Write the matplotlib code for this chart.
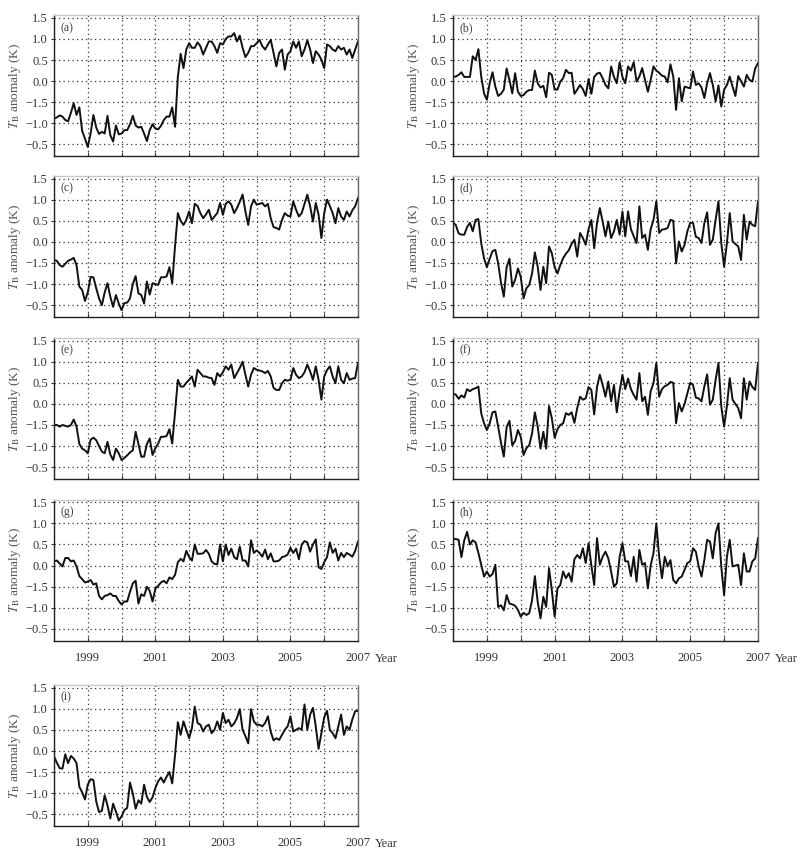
import numpy as np
import matplotlib
matplotlib.use("Agg")
import matplotlib.pyplot as plt

plt.rcParams['font.family'] = ['Liberation Serif', 'DejaVu Serif']
plt.rcParams['mathtext.fontset'] = 'stix'

# monthly anomalies, Jan 1998 .. Jan 2007 (109 values per panel)
months = 1998 + np.arange(109) / 12.0

ser_a = [-0.88, -0.86, -0.81, -0.84, -0.92, -0.95, -0.75, -0.52, -0.80, -0.62, -1.18, -1.36,
         -1.56, -1.24, -0.80, -1.10, -1.25, -1.20, -1.24, -0.82, -1.28, -1.43, -1.05, -1.26,
         -1.24, -1.16, -1.16, -1.02, -0.82, -1.05, -1.10, -1.08, -1.24, -1.42, -1.16, -1.02,
         -1.12, -1.14, -1.06, -0.92, -0.84, -0.84, -0.62, -1.08, 0.10, 0.65, 0.31, 0.75,
         0.90, 0.79, 0.79, 0.92, 0.83, 0.63, 0.79, 0.94, 0.94, 0.83, 0.67, 0.90,
         0.87, 1.00, 1.06, 1.06, 1.14, 0.94, 1.08, 0.79, 0.57, 0.67, 0.83, 0.83,
         0.90, 0.98, 0.83, 0.75, 0.87, 0.98, 0.67, 0.35, 0.67, 0.75, 0.27, 0.63,
         0.71, 0.94, 0.79, 0.94, 0.59, 0.75, 0.97, 0.75, 0.43, 0.71, 0.63, 0.51,
         0.31, 0.87, 0.83, 0.75, 0.71, 0.83, 0.75, 0.79, 0.63, 0.75, 0.55, 0.75,
         0.94]

ser_b = [0.10, 0.11, 0.15, 0.21, 0.10, 0.10, 0.10, 0.59, 0.50, 0.76, 0.11, -0.29,
         -0.44, -0.05, 0.21, -0.13, -0.35, -0.30, -0.20, 0.30, 0.03, -0.29, 0.19, -0.25,
         -0.35, -0.33, -0.25, -0.21, -0.21, 0.25, -0.05, -0.15, -0.11, -0.38, 0.20, 0.15,
         -0.20, -0.20, -0.01, 0.07, 0.27, 0.19, 0.20, -0.30, -0.20, -0.09, -0.19, -0.35,
         0.05, -0.30, 0.10, 0.18, 0.20, 0.07, -0.09, -0.17, 0.35, 0.10, -0.05, 0.45,
         0.10, -0.05, 0.35, 0.25, 0.45, -0.01, 0.11, 0.31, 0.03, -0.25, 0.03, 0.35,
         0.25, 0.20, 0.13, 0.11, -0.03, 0.40, 0.11, -0.68, 0.07, -0.48, -0.13, -0.15,
         -0.17, 0.23, -0.09, -0.05, -0.15, -0.40, -0.05, 0.19, -0.09, -0.48, -0.10, -0.60,
         -0.20, -0.09, 0.11, -0.13, -0.35, 0.12, 0.00, -0.13, 0.15, 0.03, -0.01, 0.30,
         0.43]

ser_c = [-0.43, -0.45, -0.55, -0.59, -0.52, -0.45, -0.42, -0.38, -0.55, -1.06, -1.14, -1.40,
         -1.20, -0.83, -0.84, -1.10, -1.34, -1.50, -1.20, -0.98, -1.30, -1.54, -1.26, -1.46,
         -1.62, -1.45, -1.44, -1.34, -1.00, -0.81, -1.22, -1.26, -1.46, -0.94, -1.25, -0.98,
         -1.00, -1.02, -0.84, -0.84, -0.82, -0.60, -0.98, -0.10, 0.68, 0.50, 0.40, 0.52,
         0.72, 0.44, 0.90, 0.85, 0.68, 0.56, 0.65, 0.76, 0.52, 0.60, 0.68, 0.92,
         0.64, 0.90, 0.96, 0.88, 0.68, 0.80, 0.95, 1.12, 0.72, 0.40, 0.84, 1.00,
         0.88, 0.90, 0.92, 0.84, 0.90, 0.56, 0.35, 0.33, 0.29, 0.52, 0.68, 0.62,
         0.60, 0.96, 0.76, 0.60, 0.68, 0.90, 1.12, 0.84, 0.48, 0.92, 0.64, 0.09,
         0.68, 1.00, 0.85, 0.68, 0.44, 0.80, 0.60, 0.52, 0.72, 0.60, 0.75, 0.84,
         1.04]

ser_d = [0.45, 0.40, 0.20, 0.17, 0.17, 0.35, 0.45, 0.25, 0.52, 0.54, -0.03, -0.39,
         -0.60, -0.40, -0.22, -0.19, -0.51, -0.96, -1.30, -0.60, -0.40, -1.06, -0.90, -0.63,
         -0.83, -1.34, -1.10, -1.02, -0.75, -0.25, -0.59, -1.14, -0.59, -0.98, -0.11, -0.27,
         -0.60, -0.75, -0.55, -0.39, -0.28, -0.20, -0.05, 0.05, -0.35, 0.21, 0.09, -0.07,
         0.30, 0.52, -0.15, 0.45, 0.80, 0.48, 0.13, 0.48, 0.09, 0.25, 0.52, 0.17,
         0.72, 0.13, 0.72, 0.30, 0.13, -0.03, 0.84, 0.09, 0.17, -0.19, 0.30, 0.52,
         0.96, 0.21, 0.29, 0.30, 0.33, 0.52, 0.50, -0.51, 0.01, -0.23, -0.07, 0.25,
         0.45, 0.45, 0.12, 0.09, -0.03, 0.44, 0.70, -0.07, 0.05, 0.52, 0.96, -0.03,
         -0.59, -0.03, 0.68, 0.01, -0.05, -0.11, -0.43, 0.64, 0.05, 0.48, 0.40, 0.37,
         0.96]

ser_e = [-0.50, -0.50, -0.54, -0.50, -0.52, -0.54, -0.50, -0.37, -0.54, -0.95, -1.06, -1.10,
         -1.17, -0.85, -0.80, -0.86, -1.00, -1.13, -1.17, -0.90, -1.20, -1.33, -1.06, -1.17,
         -1.33, -1.28, -1.22, -1.15, -1.10, -0.66, -0.95, -1.25, -1.25, -0.95, -0.82, -1.21,
         -1.05, -0.94, -0.78, -0.78, -0.76, -0.60, -0.94, -0.20, 0.57, 0.41, 0.41, 0.50,
         0.57, 0.65, 0.41, 0.81, 0.73, 0.65, 0.65, 0.62, 0.61, 0.45, 0.73, 0.65,
         0.75, 0.89, 0.81, 0.93, 0.61, 0.73, 0.85, 1.00, 0.69, 0.41, 0.69, 0.85,
         0.81, 0.79, 0.77, 0.73, 0.78, 0.65, 0.38, 0.33, 0.33, 0.49, 0.57, 0.55,
         0.57, 0.85, 0.69, 0.61, 0.65, 0.75, 0.93, 0.77, 0.57, 0.89, 0.57, 0.10,
         0.65, 0.80, 0.89, 0.65, 0.49, 0.89, 0.57, 0.49, 0.73, 0.57, 0.60, 0.61,
         0.97]

ser_f = [0.24, 0.22, 0.12, 0.20, 0.15, 0.35, 0.30, 0.35, 0.37, 0.41, -0.22, -0.46,
         -0.62, -0.46, -0.20, -0.18, -0.54, -0.92, -1.25, -0.55, -0.40, -0.98, -0.88, -0.62,
         -0.78, -1.21, -1.05, -0.98, -0.70, -0.20, -0.54, -1.06, -0.66, -1.06, -0.05, -0.34,
         -0.80, -0.60, -0.50, -0.46, -0.22, -0.26, -0.20, -0.45, -0.10, 0.17, 0.10, 0.13,
         0.40, 0.33, -0.25, 0.40, 0.69, 0.45, 0.17, 0.53, 0.06, 0.45, -0.20, 0.30,
         0.69, 0.35, 0.60, 0.35, 0.21, 0.10, 0.73, 0.06, 0.17, -0.26, 0.30, 0.49,
         0.97, 0.17, 0.35, 0.42, 0.45, 0.52, 0.50, -0.46, 0.02, -0.18, 0.00, 0.25,
         0.50, 0.45, 0.15, 0.13, 0.06, 0.41, 0.70, -0.02, 0.10, 0.57, 0.97, -0.06,
         -0.54, -0.05, 0.61, 0.10, 0.00, -0.10, -0.34, 0.61, 0.10, 0.53, 0.40, 0.33,
         0.97]

ser_g = [0.10, 0.12, 0.05, -0.02, 0.18, 0.18, 0.10, 0.12, -0.02, -0.25, -0.32, -0.40,
         -0.38, -0.34, -0.45, -0.42, -0.72, -0.80, -0.72, -0.70, -0.66, -0.72, -0.72, -0.84,
         -0.92, -0.85, -0.85, -0.62, -0.42, -0.36, -0.90, -0.68, -0.72, -0.50, -0.60, -0.85,
         -0.55, -0.48, -0.40, -0.36, -0.42, -0.28, -0.32, -0.22, 0.08, 0.16, 0.10, 0.35,
         0.20, 0.12, 0.50, 0.28, 0.28, 0.29, 0.37, 0.28, 0.10, 0.04, 0.03, 0.50,
         0.10, 0.50, 0.25, 0.40, 0.20, 0.15, 0.45, 0.12, 0.12, -0.02, 0.60, 0.30,
         0.36, 0.30, 0.21, 0.38, 0.15, 0.29, 0.10, 0.10, 0.12, 0.20, 0.22, 0.26,
         0.42, 0.30, 0.40, 0.15, 0.50, 0.58, 0.55, 0.33, 0.50, 0.62, -0.04, -0.08,
         0.08, 0.20, 0.55, 0.30, 0.40, 0.12, 0.30, 0.20, 0.30, 0.26, 0.21, 0.35,
         0.57]

ser_h = [0.62, 0.63, 0.61, 0.20, 0.60, 0.80, 0.50, 0.60, 0.55, 0.30, 0.02, -0.26,
         -0.14, -0.26, -0.20, 0.02, -0.98, -0.94, -1.06, -0.70, -0.90, -0.92, -0.95, -1.05,
         -1.21, -1.12, -1.17, -1.13, -0.82, -0.25, -0.86, -1.25, -0.74, -0.98, -0.06, -0.58,
         -1.21, -0.54, -0.46, -0.14, -0.30, -0.18, -0.38, 0.15, 0.25, 0.17, 0.41, 0.06,
         0.53, 0.00, -0.46, 0.65, 0.02, 0.21, 0.33, 0.17, -0.14, -0.50, -0.42, 0.20,
         0.53, 0.10, 0.10, -0.25, 0.21, -0.38, 0.37, 0.02, 0.06, -0.54, 0.00, 0.30,
         1.00, 0.21, -0.30, 0.21, -0.02, 0.13, -0.34, -0.42, -0.30, -0.26, -0.10, 0.06,
         0.10, 0.41, 0.33, -0.02, -0.26, 0.13, 0.61, 0.57, 0.17, 0.77, 1.00, -0.02,
         -0.70, 0.21, 0.61, -0.02, 0.00, 0.02, -0.46, 0.29, -0.14, -0.14, 0.10, 0.17,
         0.65]

ser_i = [-0.13, -0.28, -0.41, -0.42, -0.08, -0.29, -0.12, -0.18, -0.29, -0.85, -0.98, -1.15,
         -0.80, -0.67, -0.69, -1.20, -1.45, -1.42, -1.05, -1.29, -1.60, -1.25, -1.44, -1.65,
         -1.55, -1.40, -1.35, -0.75, -1.01, -1.37, -1.17, -1.25, -0.80, -1.09, -1.21, -1.10,
         -0.88, -0.72, -0.63, -0.75, -0.61, -0.50, -0.77, -0.10, 0.68, 0.38, 0.70, 0.50,
         0.30, 0.54, 1.05, 0.66, 0.62, 0.46, 0.58, 0.62, 0.42, 0.50, 0.70, 0.50,
         0.90, 0.66, 0.74, 0.58, 0.65, 0.78, 0.99, 0.50, 0.35, 0.18, 0.99, 0.70,
         0.62, 0.62, 0.58, 0.66, 0.82, 0.45, 0.25, 0.30, 0.26, 0.38, 0.50, 0.58,
         0.82, 0.46, 0.50, 0.54, 0.50, 1.10, 0.50, 0.86, 1.02, 0.58, 0.05, 0.42,
         0.80, 0.95, 0.50, 0.42, 0.30, 0.58, 0.86, 0.38, 0.58, 0.50, 0.75, 0.94,
         0.95]

panel_tags = ['(a)', '(b)', '(c)', '(d)', '(e)', '(f)', '(g)', '(h)', '(i)']
series = [ser_a, ser_b, ser_c, ser_d, ser_e, ser_f, ser_g, ser_h, ser_i]

ytick_vals = [1.5, 1.0, 0.5, 0.0, -0.5, -1.0, -1.5]
ytick_text = ['1.5', '1.0', '0.5', '0.0', '\u22121.5', '\u22121.0', '\u22120.5']
xtick_years = list(range(1998, 2008))
xtick_text = ['' if y % 2 == 0 else str(y) for y in xtick_years]

fig = plt.figure(figsize=(8.05, 8.56), dpi=100)

col_left = [0.0671, 0.5627]
col_w = [0.3776, 0.3789]
row_bottom = [0.8174, 0.6297, 0.4404, 0.2515, 0.0350]
row_h = 0.1647

labelled = {6, 7, 8}

for k in range(9):
    r, c = k // 2, k % 2
    ax = fig.add_axes([col_left[c], row_bottom[r], col_w[c], row_h])
    ax.plot(months, series[k], color='#111111', lw=1.4, solid_joinstyle='round')
    ax.set_xlim(1998, 2007)
    ax.set_ylim(-1.78, 1.56)
    ax.set_yticks(ytick_vals)
    ax.set_yticklabels(ytick_text)
    ax.set_xticks(xtick_years)
    if k in labelled:
        ax.set_xticklabels(xtick_text)
        ax.text(2007.5, -0.128, 'Year', transform=ax.get_xaxis_transform(),
                ha='left', va='center', fontsize=9, color='#333333')
    else:
        ax.set_xticklabels([])
    ax.grid(True, color='#333333', linestyle=(0, (1, 2.6)), linewidth=0.9)
    ax.tick_params(axis='x', direction='in', length=3, pad=8, labelsize=9,
                   colors='#333333')
    ax.tick_params(axis='y', direction='out', length=2.5, pad=2, labelsize=9,
                   colors='#333333')
    ax.spines['left'].set_color('#222222')
    ax.spines['bottom'].set_color('#222222')
    ax.spines['top'].set_color('#c8c8c8')
    ax.spines['right'].set_color('#666666')
    for s in ax.spines.values():
        s.set_linewidth(1.0)
    ax.set_ylabel(r'$T_{\rm B}$ anomaly (K)', fontsize=9.5, color='#555555')
    ax.yaxis.set_label_coords(-0.102, 0.5)
    ax.text(0.022, 0.91, panel_tags[k], transform=ax.transAxes, fontsize=8.5,
            color='#444444', ha='left', va='center')

fig.savefig('out.png', dpi=100)
